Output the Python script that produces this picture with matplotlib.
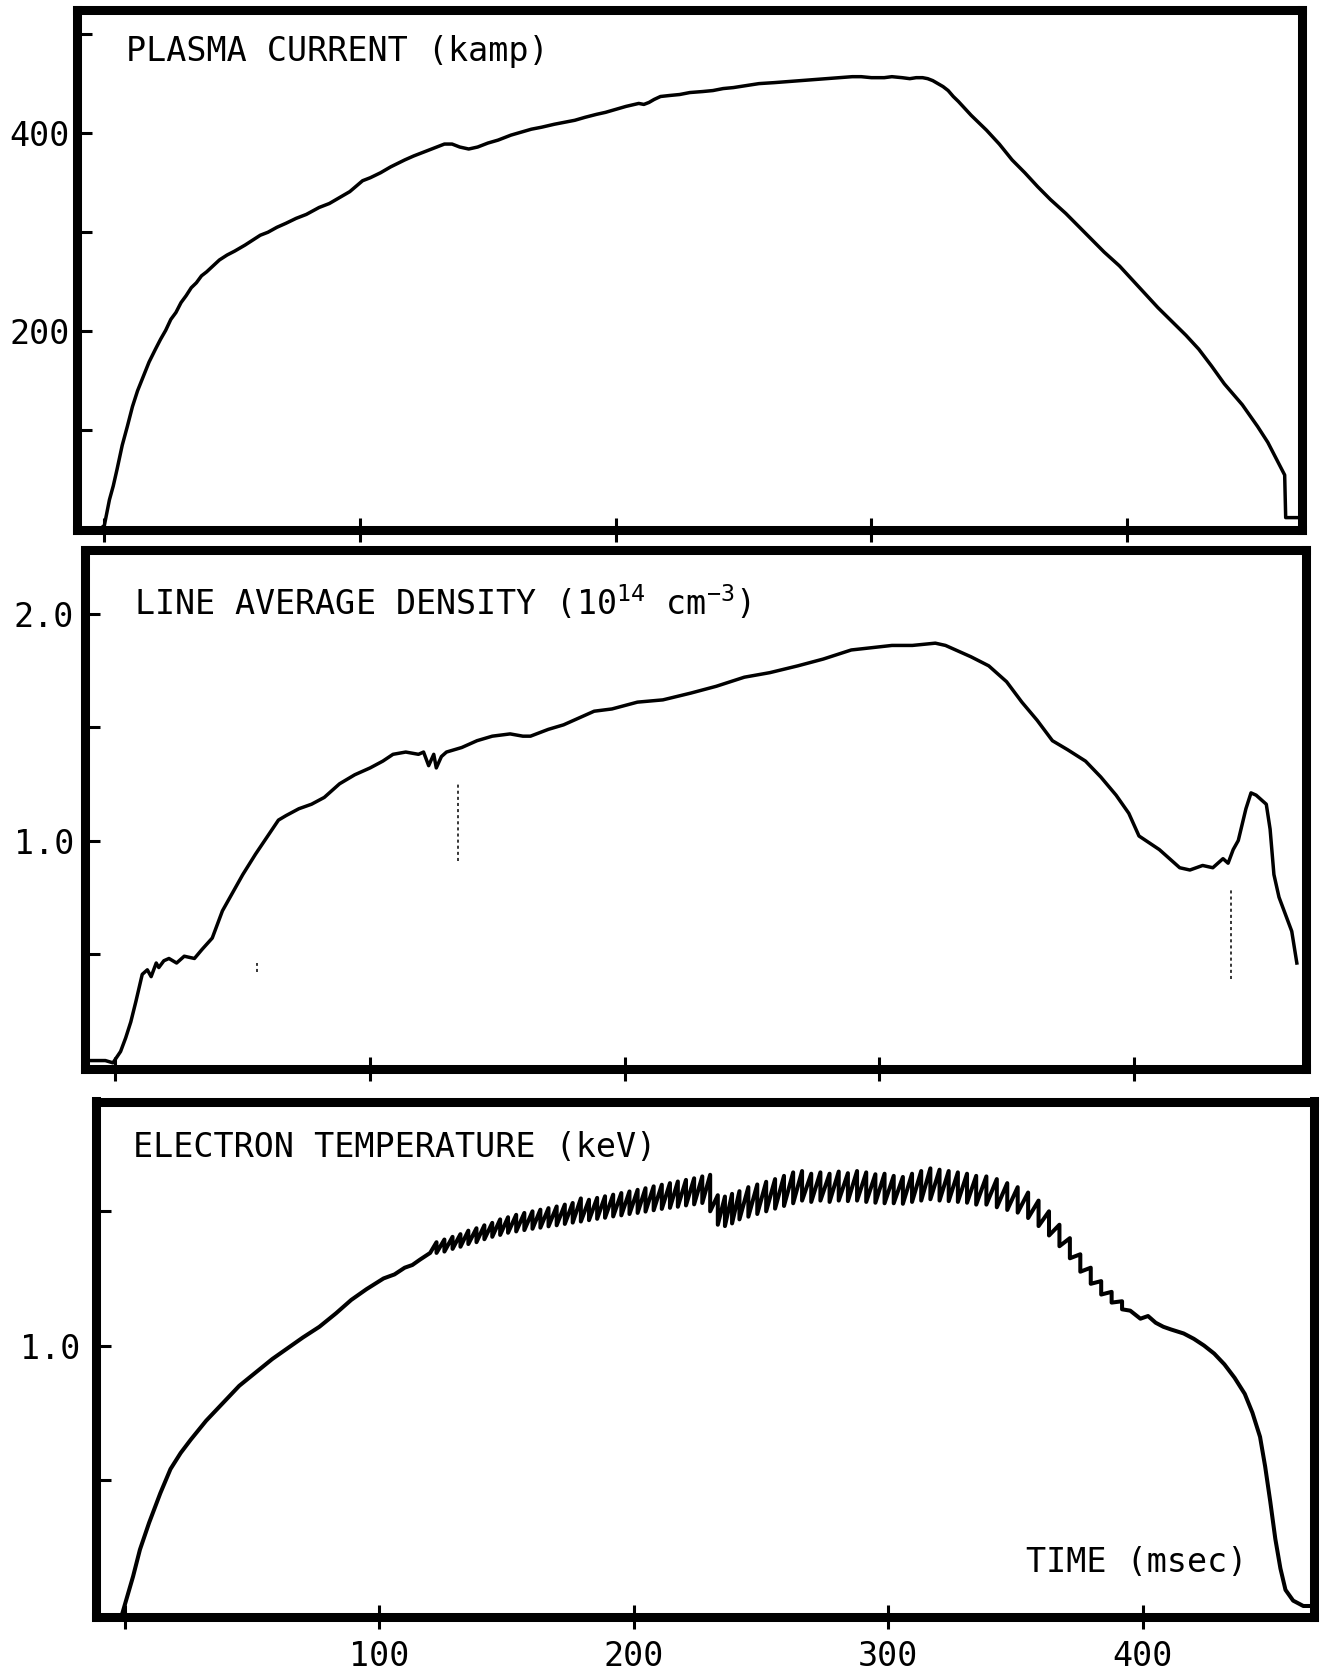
import matplotlib
matplotlib.use("Agg")
import matplotlib.pyplot as plt

plt.rcParams["font.family"] = "DejaVu Sans Mono"
plt.rcParams["mathtext.fontset"] = "custom"
plt.rcParams["mathtext.rm"] = "DejaVu Sans Mono"
plt.rcParams["mathtext.it"] = "DejaVu Sans Mono"
plt.rcParams["mathtext.bf"] = "DejaVu Sans Mono"

# plasma current (kA) vs time (ms)
ip_t = [-1, 0, 2, 3.5, 5, 7, 9, 11, 13, 15,
        17.5, 20, 22, 24, 26, 28, 30, 32, 34, 36,
        38, 40, 42.5, 45, 48, 51, 55, 58, 61, 64,
        67.5, 71, 75, 79, 84, 88, 92, 96, 101, 104,
        108, 112, 117.5, 121, 124, 127, 130, 133, 136, 139,
        142.5, 146, 150, 154, 159, 163, 167, 171, 176, 180,
        184, 188, 192.5, 196, 200, 204, 209, 211, 213, 215,
        217.5, 221, 225, 229, 234, 238, 242, 246, 251, 256,
        262, 267, 272, 277, 282, 287, 292.5, 296, 300, 305,
        308, 312, 315, 317.5, 320, 322, 324, 326, 328, 330,
        332, 334, 339, 345, 350, 355, 360, 365, 370, 376,
        381, 386, 391, 397, 402, 407, 412, 417.5, 423, 428,
        433, 438, 441, 445, 448, 451, 453, 455, 457, 459,
        461.6, 462.0, 466.5]
ip_v = [2, 4, 30, 44, 61, 85, 104, 124, 140, 153,
        169, 182, 192, 201, 212, 219, 229, 236, 244, 249,
        256, 260, 266, 272, 277, 281, 287, 292, 297, 300,
        305, 309, 314, 318, 325, 329, 335, 341, 352, 355,
        360, 366, 373, 377, 380, 383, 386, 389, 389, 386,
        384, 386, 390, 393, 398, 401, 404, 406, 409, 411,
        413, 416, 419, 421, 424, 427, 430, 429, 431, 434,
        437, 438, 439, 441, 442, 443, 445, 446, 448, 450,
        451, 452, 453, 454, 455, 456, 457, 457, 456, 456,
        457, 456, 455, 456, 456, 455, 453, 450, 447, 443,
        437, 432, 418, 403, 389, 373, 360, 346, 333, 319,
        306, 293, 280, 266, 252, 238, 224, 210, 196, 182,
        165, 147, 138, 126, 115, 104, 96, 88, 78, 68,
        55, 12, 12]

# line average density (1e14 cm^-3)
ne_t = [-10, -4, -1, 2, 4, 6, 8, 10.5, 12.5, 14, 16, 17, 19, 21, 24, 27, 31, 34,
        38, 40, 42, 46, 50, 55, 61, 64, 67, 72, 77, 82, 88, 94, 100, 105, 109,
        114, 119, 121, 123, 125, 126, 128, 130, 136, 142, 148, 155, 160, 163, 170,
        176, 182, 188, 195, 205, 215, 226, 236, 247, 257, 268, 278, 289, 297, 305,
        313, 322, 326, 330, 336, 343, 350, 356, 362, 368, 374, 381, 387, 393, 398,
        402, 406, 410, 414, 418, 422, 427, 431, 435, 437, 439, 441, 444, 446, 448,
        450, 452, 453.5, 455, 457, 460, 462, 464]
ne_v = [0.03, 0.03, 0.02, 0.07, 0.13, 0.20, 0.29, 0.41, 0.43, 0.40, 0.46, 0.44,
        0.47, 0.48, 0.46, 0.49, 0.48, 0.52, 0.57, 0.63, 0.69, 0.77, 0.85, 0.94,
        1.04, 1.09, 1.11, 1.14, 1.16, 1.19, 1.25, 1.29, 1.32, 1.35, 1.38, 1.39,
        1.38, 1.39, 1.33, 1.38, 1.32, 1.37, 1.39, 1.41, 1.44, 1.46, 1.47, 1.46,
        1.46, 1.49, 1.51, 1.54, 1.57, 1.58, 1.61, 1.62, 1.65, 1.68, 1.72, 1.74,
        1.77, 1.80, 1.84, 1.85, 1.86, 1.86, 1.87, 1.86, 1.84, 1.81, 1.77, 1.70,
        1.61, 1.53, 1.44, 1.40, 1.35, 1.28, 1.20, 1.12, 1.02, 0.99, 0.96, 0.92,
        0.88, 0.87, 0.89, 0.88, 0.92, 0.90, 0.96, 1.00, 1.14, 1.21, 1.20, 1.18,
        1.16, 1.05, 0.85, 0.75, 0.66, 0.60, 0.46]

# short spikes on the density trace
sp_t = [55.6, 134.7, 438.0]
sp_lo = [0.42, 0.91, 0.39]
sp_hi = [0.46, 1.26, 0.79]

# electron temperature (keV): smooth rise, sawtooth phase, decay
te_rise_t = [-1, 3.3, 6, 9.6, 14, 18, 22, 26, 32, 39, 45, 51.5, 58, 64, 70, 76.5,
             83, 89, 95, 101.7, 106, 110, 113, 116, 120]
te_rise_v = [0.0, 0.14, 0.24, 0.34, 0.45, 0.54, 0.60, 0.65, 0.72, 0.79, 0.85,
             0.90, 0.95, 0.99, 1.03, 1.07, 1.12, 1.17, 1.21, 1.25, 1.265, 1.29,
             1.30, 1.32, 1.345]

saw_t = [122.5, 125.6, 128.8, 131.9, 135.0, 138.2, 141.3, 144.4, 147.5, 150.6,
         153.8, 157.0, 160.2, 163.3, 166.5, 169.7, 172.9, 176.0, 179.2, 182.4,
         185.6, 188.7, 191.9, 195.1, 198.3, 201.5, 204.6, 207.8, 211.0, 214.2,
         217.3, 220.5, 223.7, 226.9, 230.0,
         233.0, 235.8, 238.6, 241.5,
         245.0, 248.5, 252.0, 255.5, 259.0, 262.6, 266.1, 269.7, 273.3, 276.9,
         280.5, 284.1, 287.7, 291.3, 294.9, 298.5, 302.1, 305.7, 309.3, 312.9,
         316.5, 320.1, 323.7, 327.3, 330.9, 334.5,
         338.5, 342.6, 346.7, 350.8, 354.9, 359.0, 363.1, 367.2, 371.3, 375.4,
         379.5, 383.6, 387.7, 391.8]
saw_top = [1.385, 1.395, 1.405, 1.415, 1.428, 1.437, 1.448, 1.457, 1.470, 1.478,
           1.487, 1.494, 1.500, 1.506, 1.512, 1.518, 1.525, 1.531, 1.548, 1.543,
           1.550, 1.556, 1.562, 1.568, 1.574, 1.580, 1.586, 1.593, 1.599, 1.605,
           1.611, 1.617, 1.623, 1.630, 1.636,
           1.560, 1.555, 1.565, 1.575,
           1.590, 1.600, 1.610, 1.620, 1.632, 1.645, 1.650, 1.640, 1.645, 1.640,
           1.648, 1.642, 1.650, 1.645, 1.638, 1.640, 1.632, 1.628, 1.640, 1.650,
           1.660, 1.655, 1.650, 1.645, 1.640, 1.632,
           1.630, 1.620, 1.605, 1.590, 1.570, 1.540, 1.500, 1.450, 1.400, 1.340,
           1.290, 1.240, 1.200, 1.165]
saw_bot = [1.345, 1.350, 1.360, 1.368, 1.378, 1.385, 1.396, 1.405, 1.412, 1.420,
           1.425, 1.430, 1.435, 1.439, 1.444, 1.448, 1.453, 1.458, 1.462, 1.467,
           1.472, 1.476, 1.481, 1.485, 1.490, 1.494, 1.499, 1.504, 1.509, 1.513,
           1.517, 1.522, 1.526, 1.531, 1.500,
           1.450, 1.445, 1.455, 1.470,
           1.480, 1.490, 1.500, 1.510, 1.520, 1.530, 1.540, 1.535, 1.540, 1.535,
           1.540, 1.538, 1.540, 1.535, 1.532, 1.530, 1.530, 1.528, 1.535, 1.540,
           1.545, 1.540, 1.538, 1.535, 1.532, 1.525,
           1.525, 1.515, 1.505, 1.495, 1.475, 1.445, 1.410, 1.370, 1.325, 1.275,
           1.230, 1.190, 1.160, 1.135]

te_tail_t = [395, 399, 402, 405, 408, 411, 416, 420, 424, 428, 432, 436, 440, 443,
             446, 448, 450, 452, 454, 456, 459, 463, 467]
te_tail_v = [1.13, 1.10, 1.11, 1.085, 1.07, 1.06, 1.045, 1.025, 1.00, 0.97, 0.93,
             0.88, 0.82, 0.75, 0.66, 0.55, 0.42, 0.28, 0.17, 0.09, 0.05, 0.03, 0.03]

xticks = [0, 100, 200, 300, 400]

W, H = 1321, 1671
fig = plt.figure(figsize=(W / 100, H / 100), dpi=100)
fig.patch.set_facecolor("white")


def panel(left, top, right, bottom):
    ax = fig.add_axes([left / W, 1 - bottom / H, (right - left) / W, (bottom - top) / H])
    for sp in ax.spines.values():
        sp.set_linewidth(6.5)
        sp.set_capstyle("projecting")
    ax.tick_params(axis="y", direction="in", length=11, width=2.2, labelsize=24)
    ax.tick_params(axis="x", direction="inout", length=17, width=2.2, labelsize=24, pad=8)
    ax.set_xticks(xticks)
    ax.set_xticklabels([])
    return ax


# plasma current
ax1 = panel(76.7, 9.6, 1301.8, 529.5)
ax1.plot(ip_t, ip_v, color="black", lw=2.5, solid_joinstyle="round")
ax1.set_xlim(-10.8, 468.3)
ax1.set_ylim(0, 524.7)
ax1.set_yticks([100, 200, 300, 400, 500])
ax1.set_yticklabels(["", "200", "", "400", ""])
ax1.tick_params(axis="y", pad=5)

# density
ax2 = panel(85.2, 549.7, 1306.0, 1068.5)
ax2.plot(ne_t, ne_v, color="black", lw=2.5, solid_joinstyle="round")
ax2.vlines(sp_t, sp_lo, sp_hi, colors="black", lw=1.1, linestyles=(0, (2, 2)))
ax2.set_xlim(-11.9, 467.6)
ax2.set_ylim(-0.005, 2.282)
ax2.set_yticks([0.5, 1.0, 1.5, 2.0])
ax2.set_yticklabels(["", "1.0", "", "2.0"])
ax2.tick_params(axis="y", pad=8)

# electron temperature, sawteeth drawn as rise-then-crash segments
te_t = list(te_rise_t)
te_v = list(te_rise_v)
for t, top, bot in zip(saw_t, saw_top, saw_bot):
    te_t += [t, t]
    te_v += [top, bot]
te_t += te_tail_t
te_v += te_tail_v

ax3 = panel(95.9, 1101.5, 1313.5, 1617.0)
ax3.plot(te_t, te_v, color="black", lw=2.9, solid_joinstyle="round")
ax3.set_xlim(-11.3, 467.0)
ax3.set_ylim(-0.011, 1.909)
ax3.set_yticks([0.5, 1.0, 1.5])
ax3.set_yticklabels(["", "1.0", ""])
ax3.tick_params(axis="y", pad=11)
ax3.set_xticklabels(["", "100", "200", "300", "400"])

fig.text(125.7 / W, 1 - 60.7 / H, "PLASMA CURRENT (kamp)", fontsize=24, va="baseline")
fig.text(134.2 / W, 1 - 614.7 / H, r"LINE AVERAGE DENSITY (10$^{14}$ cm$^{-3}$)",
         fontsize=24, va="baseline")
fig.text(133.2 / W, 1 - 1157 / H, "ELECTRON TEMPERATURE (keV)", fontsize=24, va="baseline")
fig.text(1026 / W, 1 - 1572 / H, "TIME (msec)", fontsize=24, va="baseline")

fig.savefig("out.png", dpi=100, facecolor="white")
